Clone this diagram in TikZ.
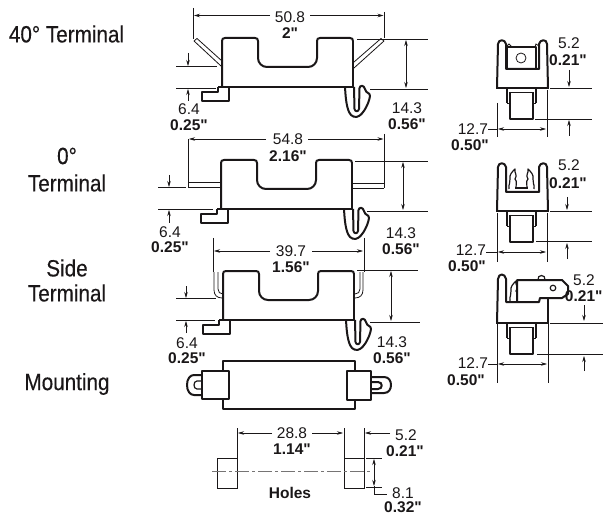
\documentclass[tikz,border=0pt]{standalone}
\usepackage{fontspec}
\newfontfamily\dimfont{Liberation Sans}
\newfontfamily\labfont[FakeStretch=0.88,FakeBold=0.25]{Liberation Sans}
\usetikzlibrary{arrows.meta}
\definecolor{ink}{HTML}{1A1718}
\tikzset{
  x=1pt,y=-1pt,
  every node/.style={inner sep=0pt,outer sep=0pt,text=ink},
  dimtxt/.style={font=\fontsize{15.5}{15.5}\dimfont,anchor=center},
  boldtxt/.style={font=\fontsize{15.5}{15.5}\dimfont\bfseries,anchor=center},
  headtxt/.style={font=\fontsize{23.5}{23.5}\labfont,anchor=center},
  thick line/.style={draw=ink,line width=2pt,line join=round},
  thin line/.style={draw=ink,line width=0.8pt},
  mid line/.style={draw=ink,line width=1.2pt,line join=round},
  ext/.style={draw=ink,line width=0.8pt},
  dim/.style={draw=ink,line width=0.6pt,-{Stealth[length=6pt,width=3.5pt]}},
  dimboth/.style={draw=ink,line width=0.6pt,{Stealth[length=6pt,width=3.5pt]}-{Stealth[length=6pt,width=3.5pt]}},
  pics/frontbody/.style={code={
    \draw[thick line] (0,0) -- (0,-46) .. controls (0,-48) and (1,-49) .. (3,-49) -- (33,-49)
      .. controls (35,-49) and (36,-48) .. (36,-46) -- (36,-29) .. controls (36,-24) and (40,-20) .. (45,-20)
      -- (86,-20) .. controls (91,-20) and (95,-24) .. (95,-29) -- (95,-46)
      .. controls (95,-48) and (96,-49) .. (98,-49) -- (128,-49)
      .. controls (130,-49) and (131,-48) .. (131,-46);
    \draw[mid line] (131,-46) -- (131,0);
    \draw[thick line] (-4,0) -- (131.5,0);
    \draw[thick line] (-4,0) -- (-4,5) -- (-20,5) -- (-20,14) -- (7,14) -- (7,0);
    \draw[thick line] (123,0) .. controls (123.5,8) and (124,18) .. (127,25)
      .. controls (129,30) and (134,31) .. (137,29) .. controls (142,26) and (147,16) .. (148,9)
      .. controls (148,5) and (144,7) .. (143,2) .. controls (142,-2) and (138,-2) .. (137.5,1)
      -- (137,22) .. controls (136.5,25) and (133,25) .. (132.5,22) -- (132,0);
  }},
  pics/sideupper/.style={code={
    \draw[thick line] (0,0) -- (1,-44) .. controls (1.5,-49) and (8,-49) .. (9,-44) -- (9,-19) -- (42,-19)
      -- (42,-44) .. controls (43,-49) and (50,-49) .. (50,-44) -- (51,0);
    \draw[thick line] (-1,0) -- (52,0);
  }},
  pics/sidepin/.style={code={
    \draw[mid line] (10,0) -- (10,15); \draw[mid line] (39,0) -- (39,15);
    \draw[thin line] (13,4) -- (36,4);
    \draw[thin line] (10,15) -- (13,15);\draw[thin line] (36,15) -- (39,15);
    \draw[thick line] (13,4) -- (13,31) -- (36,31) -- (36,4);
  }},
  pics/clipfern/.style={code={
    \draw[mid line] (0,0) .. controls (-1,-5) and (2,-6) .. (1,-10) .. controls (0,-14) and (3,-17) .. (6,-20)
      .. controls (5,-16) and (9,-14) .. (6,-10) .. controls (9,-7) and (6,-4) .. (7,-1);
  }}
}
\begin{document}
\begin{tikzpicture}
\useasboundingbox (0,0) rectangle (603,516);
\clip (0,0) rectangle (603,516);
\fill[white] (0,0) rectangle (603,516);

\node[headtxt] (h1) at (66.5,34) {40° Terminal};
\node[headtxt] (h2a) at (67,156) {0°};
\node[headtxt] (h2b) at (67,183) {Terminal};
\node[headtxt] (h3a) at (67,268) {Side};
\node[headtxt] (h3b) at (67,293) {Terminal};
\node[headtxt] (h4) at (67,384) {Mounting};

% 40 deg front
\pic at (222,87) {frontbody};
\draw[thin line] (194,41) -- (221,66) (197,38.5) -- (222,61) (194,41) -- (197,38.5);
\draw[thin line] (384,41) -- (354,68) (381,38.5) -- (354,62) (384,41) -- (381,38.5);
\draw[ext] (193,8) -- (193,39) (384,12) -- (384,38);
\draw[ext] (357,39) -- (428,39) (370,89) -- (428,89);
\draw[ext] (176,66.5) -- (217,66.5) (176,88) -- (216,88);
\draw[dim] (270,15.5) -- (194,15.5);
\draw[dim] (310,15.5) -- (383.5,15.5);
\node[dimtxt] (a1) at (290,17) {50.8};
\node[boldtxt] (a2) at (290,33) {2"};
\draw[dimboth] (406,40) -- (406,88);
\node[dimtxt] (a3) at (407,108) {14.3};
\node[boldtxt] (a4) at (407,124) {0.56"};
\draw[dim] (188,53) -- (188,66);
\draw[dim] (188,101) -- (188,89);
\node[dimtxt] (a5) at (189,109) {6.4};
\node[boldtxt] (a6) at (189,125) {0.25"};

% 0 deg front
\pic at (221,209) {frontbody};
\draw[thin line] (188,182) -- (221,182) (188,187) -- (221,187) (188,182) -- (188,187);
\draw[thin line] (353,183) -- (384,183) (353,188) -- (384,188) (384,183) -- (384,188);
\draw[ext] (188,139) -- (188,182) (384,134) -- (384,183);
\draw[ext] (355,161) -- (428,161) (367,211) -- (428,211);
\draw[ext] (158,187) -- (186,187) (158,209) -- (213,209);
\draw[dim] (266,139) -- (189,139);
\draw[dim] (308,139) -- (383.5,139);
\node[dimtxt] (b1) at (288,139) {54.8};
\node[boldtxt] (b2) at (288,156) {2.16"};
\draw[dimboth] (403,162) -- (403,210);
\node[dimtxt] (b3) at (401,233) {14.3};
\node[boldtxt] (b4) at (401,249) {0.56"};
\draw[dim] (169,175) -- (169,187);
\draw[dim] (169,223) -- (169,210);
\node[dimtxt] (b5) at (170,232) {6.4};
\node[boldtxt] (b6) at (170,247) {0.25"};

% side terminal front
\pic at (223,320) {frontbody};
\draw[thin line] (214,272) -- (214,290) .. controls (214,295) and (217,298) .. (222,298)
  (218,272) -- (218,289) .. controls (218,292) and (220,294) .. (223,294);
\draw[thin line] (363,272) -- (363,290) .. controls (363,295) and (360,298) .. (355,298)
  (360,272) -- (360,289) .. controls (360,292) and (358,294) .. (355,294);
\draw[ext] (213,238) -- (213,272) (364,238) -- (364,272);
\draw[ext] (357,270) -- (418,270) (370,322) -- (420,322);
\draw[ext] (176,298) -- (216,298) (176,320) -- (215,320);
\draw[dim] (270,251) -- (214,251);
\draw[dim] (312,251) -- (363,251);
\node[dimtxt] (c1) at (291,251) {39.7};
\node[boldtxt] (c2) at (291,267) {1.56"};
\draw[dimboth] (391,271) -- (391,321);
\node[dimtxt] (c3) at (392,342) {14.3};
\node[boldtxt] (c4) at (392,358) {0.56"};
\draw[dim] (186,286) -- (186,298);
\draw[dim] (186,333) -- (186,321);
\node[dimtxt] (c5) at (187,343) {6.4};
\node[boldtxt] (c6) at (187,358) {0.25"};

% mounting
\draw[thick line] (223,371) -- (223,361) -- (355,361) -- (355,371);
\draw[thick line] (223,399) -- (223,409) -- (355,409) -- (355,399);
\draw[thick line] (202,371) rectangle (229,399);
\draw[thick line] (347,371) rectangle (371,400);
\draw[thick line] (202,375) -- (194,375) .. controls (190,375) and (187,379) .. (187,385)
  .. controls (187,391) and (190,395) .. (194,395) -- (202,395);
\draw[mid line] (202,381) -- (197,381) .. controls (193,381) and (193,389) .. (197,389) -- (202,389);
\draw[thick line] (371,377) -- (384,377) .. controls (389,377) and (391,381) .. (391,385)
  .. controls (391,389) and (389,393) .. (384,393) -- (371,393);
\draw[thick line] (371,382) -- (378,382) .. controls (383,382) and (383,389) .. (378,389) -- (371,389);

% holes
\draw[thin line] (217,458) rectangle (237,488);
\draw[thin line] (344,458) rectangle (364,488);
\draw[draw=ink!60,line width=0.7pt,dash pattern=on 14pt off 3pt on 3pt off 3pt] (212,471) -- (373,471);
\draw[ext] (237,428) -- (237,458) (344,428) -- (344,458) (364,428) -- (364,458);
\draw[dim] (272,433) -- (238,433);
\draw[dim] (312,433) -- (343,433);
\node[dimtxt] (d1) at (292,433) {28.8};
\node[boldtxt] (d2) at (292,449) {1.14"};
\draw[dim] (390,433) -- (365,433);
\node[dimtxt] (d3) at (406,435) {5.2};
\node[boldtxt] (d4) at (405,451) {0.21"};
\draw[ext] (366,458) -- (382,458) (366,487) -- (382,487);
\draw[dimboth] (374,459) -- (374,486);
\draw[ext] (374,486) -- (374,494) -- (387,494);
\node[dimtxt] (d5) at (403,493) {8.1};
\node[boldtxt] (d6) at (403,507) {0.32"};
\node[boldtxt] (d7) at (290,493) {Holes};

% side view 40
\pic at (497,88) {sideupper};
\pic at (497,88) {sidepin};
\draw[mid line] (507,69) -- (507,47) -- (536,47) -- (536,69);
\draw[thin line] (506,47) -- (509,44) -- (512,47) (535,47) -- (536,44) -- (539,46);
\draw[thin line] (521,58) circle (5);
\draw[ext] (550,88) -- (592,88) (535,119) -- (592,119);
\draw[dim] (569,70) -- (569,87);
\draw[dim] (569,136) -- (569,120);
\draw[ext] (497,103) -- (497,137) (547,90) -- (547,137);
\draw[dimboth] (498,129) -- (546,129);
\draw[ext] (488,129) -- (497,129);
\node[dimtxt,anchor=east] (e3) at (488,129) {12.7};
\node[dimtxt] (e1) at (569,43) {5.2};
\node[boldtxt] (e2) at (568,60) {0.21"};
\node[boldtxt] (e4) at (470,145) {0.50"};

% side view 0
\pic at (497,211) {sideupper};
\pic at (497,211) {sidepin};
\pic at (509,189) {clipfern};
\pic[xscale=-1] at (534,189) {clipfern};
\draw[mid line] (515,188) -- (528,188);
\draw[ext] (550,211) -- (592,211) (536,241) -- (592,241);
\draw[dim] (567,197) -- (567,210);
\draw[dim] (567,259) -- (567,243);
\draw[ext] (497,213) -- (497,262) (547,213) -- (547,262);
\draw[dimboth] (498,252) -- (546,252);
\draw[ext] (486,252) -- (497,252);
\node[dimtxt,anchor=east] (f1) at (486,250) {12.7};
\node[boldtxt] (f2) at (467,266) {0.50"};
\node[dimtxt] (f3) at (569,165) {5.2};
\node[boldtxt] (f4) at (568,183) {0.21"};

% side view side terminal
\draw[thick line] (497,323) -- (498,279) .. controls (498.5,273) and (505,273) .. (506,279) -- (506,302) -- (539,302)
  -- (540,298) -- (562,298) -- (568,294) -- (568,286) -- (562,280) -- (517,280) -- (517,302);
\draw[thick line] (548,298) -- (548,323);
\draw[thick line] (496,323) -- (549,323);
\pic at (497,323) {sidepin};
\pic at (510,301) {clipfern};
\draw[mid line] (553,288) circle (2.8);
\draw[mid line] (538,280) .. controls (537,274) and (546,274) .. (545,280);
\draw[ext] (550,323) -- (603,323) (537,354) -- (603,354);
\draw[dim] (584,305) -- (584,321);
\draw[dim] (584,371) -- (584,356);
\draw[ext] (497,323) -- (497,383) (548,323) -- (548,383);
\draw[dimboth] (498,364) -- (547,364);
\draw[ext] (488,364) -- (497,364);
\node[dimtxt,anchor=east] (g1) at (488,363) {12.7};
\node[boldtxt] (g2) at (466,380) {0.50"};
\node[dimtxt] (g3) at (584,280) {5.2};
\node[boldtxt,anchor=east] (g4) at (602.5,296) {0.21"};
\end{tikzpicture}
\end{document}
